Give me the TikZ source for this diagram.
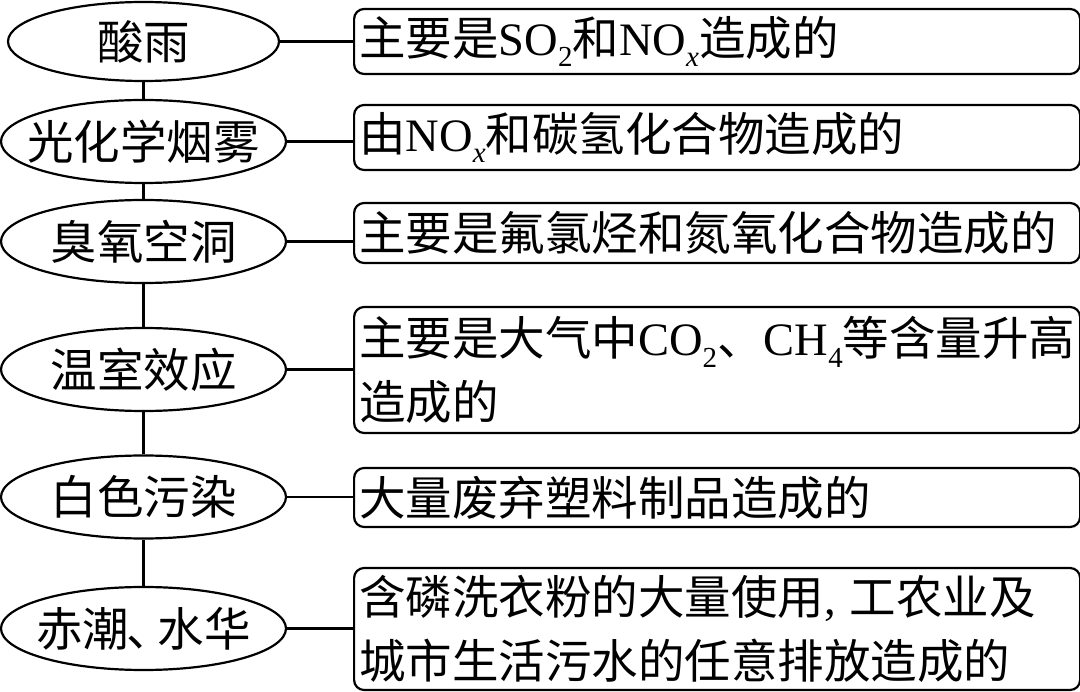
\documentclass[tikz,border=0pt]{standalone}
\usepackage{fontspec}
\setmainfont{Liberation Serif}
\newfontfamily\cjk{Noto Sans CJK SC}
\usetikzlibrary{shapes.geometric}
\newcommand{\lsub}[1]{\raisebox{-0.25em}{\fontsize{29}{29}\selectfont #1}}
\newcommand{\dunhao}{\makebox[0.62em][l]{\hspace{-0.05em}\cjk 、}}
\tikzset{
  ell/.style={ellipse, draw, line width=2.2pt, inner sep=0pt,
    minimum width=285pt, minimum height=83pt,
    font=\fontsize{46.5}{56}\selectfont\cjk},
  box/.style={rectangle, rounded corners=10pt, draw, line width=2.2pt,
    anchor=west, inner xsep=5pt, inner ysep=0pt, text width=716pt,
    align=left, font=\fontsize{46.5}{64}\selectfont},
  conn/.style={line width=2.2pt}
}
\begin{document}
\begin{tikzpicture}[x=1pt,y=-1pt]
\useasboundingbox (0,0) rectangle (1080,692);
% ellipses
\node[ell, minimum width=271pt, minimum height=79pt] (e1) at (143.5,41.5) {\makebox[0pt]{酸雨}};
\node[ell] (e2) at (143.5,141.5) {\makebox[0pt]{光化学烟雾}};
\node[ell] (e3) at (143.5,241.5) {\makebox[0pt]{臭氧空洞}};
\node[ell] (e4) at (143.5,369.5) {\makebox[0pt]{温室效应}};
\node[ell] (e5) at (143.5,497) {\makebox[0pt]{白色污染}};
\node[ell] (e6) at (143.5,628.5) {\makebox[0pt]{赤潮\dunhao 水华}};
% boxes
\node[box, minimum height=65pt] (b1) at (353,41.5) {{\cjk 主要是}SO\lsub{2}{\cjk 和}NO\lsub{\textit{x}}{\cjk 造成的}};
\node[box, minimum height=65pt] (b2) at (353,137.5) {{\cjk 由}NO\lsub{\textit{x}}{\cjk 和碳氢化合物造成的}};
\node[box, minimum height=60pt] (b3) at (353,233) {{\cjk 主要是氟氯烃和氮氧化合物造成的}};
\node[box, minimum height=126pt] (b4) at (353,370) {{\cjk 主要是大气中}CO\lsub{2}{\cjk 、}CH\lsub{4}{\cjk 等含量升高}\\{\cjk 造成的}};
\node[box, minimum height=59pt] (b5) at (353,497.5) {{\cjk 大量废弃塑料制品造成的}};
\node[box, minimum height=122pt] (b6) at (353,629) {{\cjk 含磷洗衣粉的大量使用},\hspace{0.3em}{\cjk 工农业及}\\{\cjk 城市生活污水的任意排放造成的}};
% connectors
\draw[conn] (e1.east) -- (e1.east -| b1.west);
\draw[conn] (e2.east) -- (e2.east -| b2.west);
\draw[conn] (e3.east) -- (e3.east -| b3.west);
\draw[conn] (e4.east) -- (e4.east -| b4.west);
\draw[conn] (e5.east) -- (e5.east -| b5.west);
\draw[conn] (e6.east) -- (e6.east -| b6.west);
\draw[conn] (e1.south) -- (e2.north);
\draw[conn] (e2.south) -- (e3.north);
\draw[conn] (e3.south) -- (e4.north);
\draw[conn] (e4.south) -- (e5.north);
\draw[conn] (e5.south) -- (e6.north);
\end{tikzpicture}
\end{document}
